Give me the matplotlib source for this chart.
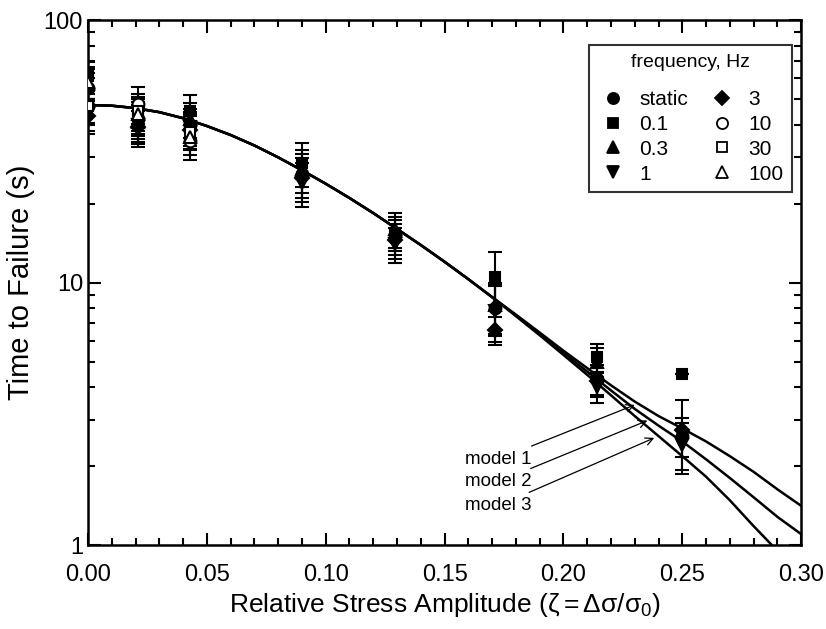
import numpy as np
import matplotlib
matplotlib.use('Agg')
import matplotlib.pyplot as plt
from matplotlib.lines import Line2D
from matplotlib.ticker import MultipleLocator, FixedLocator, LogLocator, NullFormatter

plt.rcParams['font.family'] = ['Liberation Sans', 'DejaVu Sans']
plt.rcParams['mathtext.fontset'] = 'custom'
plt.rcParams['mathtext.rm'] = 'Liberation Sans'
plt.rcParams['mathtext.it'] = 'Liberation Sans'

nan = np.nan

# relative stress amplitude levels tested
amplitude = [0.0, 0.021, 0.043, 0.090, 0.129, 0.171, 0.214, 0.250]

# time to failure (s) for each loading frequency
t_static = [55, 42, 40, 26, 15.0, 8.0, 4.3, 2.6]
t_f01 = [61, 43, 45, 28.5, 15.5, 10.5, 5.2, 4.5]
t_f03 = [57, 41, 42, 27, 16.0, 8.2, 5.0, nan]
t_f1 = [44, 40, 39, 24, 14.0, 7.8, 4.0, 2.4]
t_f3 = [43, 39, 38, 25, 14.5, 6.6, 4.2, 2.75]
t_f10 = [47, 48, 34.5, nan, nan, nan, nan, nan]
t_f30 = [47, 45, 37.5, nan, nan, nan, nan, nan]
t_f100 = [58, 44, 36, nan, nan, nan, nan, nan]

# relative scatter (fraction of mean) for each series
e_static = [0.14, 0.16, 0.15, 0.19, 0.15, 0.22, 0.13, 0.17]
e_f01 = [0.14, 0.16, 0.15, 0.19, 0.15, 0.25, 0.12, 0.0]
e_f03 = [0.14, 0.16, 0.15, 0.19, 0.15, 0.22, 0.13, nan]
e_f1 = [0.14, 0.16, 0.15, 0.19, 0.15, 0.24, 0.13, 0.22]
e_f3 = [0.14, 0.16, 0.15, 0.19, 0.15, 0.12, 0.13, 0.30]
e_f10 = [0.14, 0.16, 0.15, nan, nan, nan, nan, nan]
e_f30 = [0.14, 0.16, 0.15, nan, nan, nan, nan, nan]
e_f100 = [0.14, 0.16, 0.15, nan, nan, nan, nan, nan]

freq_labels = ['static', '0.1', '0.3', '1', '3', '10', '30', '100']

# model curves
model_x = [0.00, 0.01, 0.02, 0.03, 0.04, 0.05, 0.06, 0.07, 0.08, 0.09, 0.10,
           0.11, 0.12, 0.13, 0.14, 0.15, 0.16, 0.17, 0.18, 0.19, 0.20,
           0.21, 0.22, 0.23, 0.24, 0.25, 0.26, 0.27, 0.28, 0.29, 0.30]
model1 = [47.5, 47.2, 46.2, 44.6, 42.3, 39.5, 36.5, 33.3, 30.0, 26.8, 23.8,
          21.0, 18.4, 16.0, 13.9, 12.0, 10.3, 8.8, 7.55, 6.45, 5.5,
          4.72, 4.06, 3.52, 3.1, 2.78, 2.48, 2.18, 1.9, 1.63, 1.41]
model2 = [47.5, 47.2, 46.2, 44.6, 42.3, 39.5, 36.5, 33.3, 30.0, 26.8, 23.8,
          21.0, 18.4, 16.0, 13.9, 12.0, 10.3, 8.8, 7.5, 6.38, 5.4,
          4.58, 3.88, 3.3, 2.85, 2.48, 2.12, 1.8, 1.52, 1.28, 1.1]
model3 = [47.5, 47.2, 46.2, 44.6, 42.3, 39.5, 36.5, 33.3, 30.0, 26.8, 23.8,
          21.0, 18.4, 16.0, 13.9, 12.0, 10.3, 8.8, 7.45, 6.3, 5.3,
          4.45, 3.72, 3.1, 2.6, 2.18, 1.82, 1.48, 1.18, 0.95, 0.78]

series = [t_static, t_f01, t_f03, t_f1, t_f3, t_f10, t_f30, t_f100]
errors = [e_static, e_f01, e_f03, e_f1, e_f3, e_f10, e_f30, e_f100]
markers = ['o', 's', '^', 'v', 'D', 'o', 's', '^']
filled = [True, True, True, True, True, False, False, False]
msizes = [8.5, 7.5, 8.5, 8.5, 7.5, 8.5, 7.5, 8.5]

fig = plt.figure(figsize=(8.26, 6.29), dpi=100)
ax = fig.add_axes([0.1065, 0.1335, 0.8635, 0.8345])

for ym in [model1, model2, model3]:
    ax.plot(model_x, ym, color='black', lw=1.8, zorder=2)

x = np.array(amplitude)
for vals, rel, m, f, ms in zip(series, errors, markers, filled, msizes):
    y = np.array(vals, dtype=float)
    err = y * np.array(rel, dtype=float)
    ax.errorbar(x, y, yerr=err, fmt=m, ms=ms, mfc='black' if f else 'white',
                mec='black', mew=1.5, ecolor='black', elinewidth=1.5,
                capsize=5, capthick=1.5, zorder=3)

# model labels with arrows
arrow = dict(arrowstyle='->', lw=0.9, color='black', shrinkA=4, shrinkB=0)
ax.annotate('model 1', xy=(0.2300, 3.42), xytext=(0.1865, 2.12), ha='right', va='center',
            fontsize=13.5, arrowprops=arrow)
ax.annotate('model 2', xy=(0.2353, 2.98), xytext=(0.1865, 1.74), ha='right', va='center',
            fontsize=13.5, arrowprops=arrow)
ax.annotate('model 3', xy=(0.2382, 2.56), xytext=(0.1865, 1.41), ha='right', va='center',
            fontsize=13.5, arrowprops=arrow)

ax.set_yscale('log')
ax.set_xlim(0, 0.30)
ax.set_ylim(1, 100)

ax.xaxis.set_major_locator(MultipleLocator(0.05))
ax.xaxis.set_minor_locator(MultipleLocator(0.01))
ax.xaxis.set_major_formatter(plt.FuncFormatter(lambda v, p: '%.2f' % v))
ax.yaxis.set_major_locator(FixedLocator([1, 10, 100]))
ax.yaxis.set_major_formatter(plt.FuncFormatter(lambda v, p: '%d' % v))
ax.yaxis.set_minor_locator(LogLocator(base=10, subs=np.arange(2, 10)))
ax.yaxis.set_minor_formatter(NullFormatter())

ax.tick_params(which='both', direction='in', top=True, right=True, width=1.5, labelsize=17)
ax.tick_params(which='major', length=9)
ax.tick_params(which='minor', length=5)
ax.tick_params(axis='x', pad=14)
for s in ax.spines.values():
    s.set_linewidth(1.8)

ax.set_ylabel('Time to Failure (s)', fontsize=21, labelpad=6)
ax.set_xlabel(r'Relative Stress Amplitude ($\zeta = \Delta\sigma/\sigma_0$)', fontsize=19, labelpad=3)

handles = []
for lab, m, f, ms in zip(freq_labels, markers, filled, msizes):
    handles.append(Line2D([], [], linestyle='none', marker=m, ms=ms - 0.5,
                          mfc='black' if f else 'white', mec='black', mew=1.3, label=lab))
leg = ax.legend(handles=handles, ncol=2, title='frequency, Hz', loc='upper right',
                bbox_to_anchor=(0.987, 0.952), borderaxespad=0, fontsize=15,
                title_fontsize=14, frameon=True, fancybox=False, handletextpad=0.5,
                columnspacing=0.9, labelspacing=0.28, borderpad=0.4, handlelength=1.5)
leg.get_frame().set_edgecolor('black')
leg.get_frame().set_linewidth(1.5)
leg._legend_box.sep = 14

fig.savefig('out.png', dpi=100)
